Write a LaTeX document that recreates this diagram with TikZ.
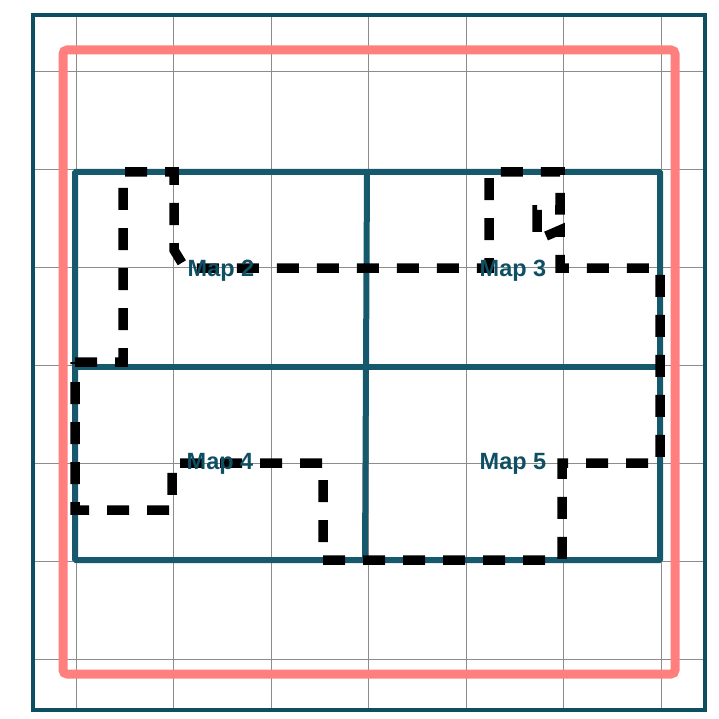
\documentclass[tikz,border=0pt]{standalone}
\usepackage{fontspec}
\setmainfont{Liberation Sans}
\usepackage{xcolor}
\definecolor{frameteal}{HTML}{0B4F60}
\definecolor{mapteal}{HTML}{17596C}
\definecolor{labelteal}{HTML}{0E4F63}
\definecolor{boundpink}{HTML}{FF7F7F}
\definecolor{gridgray}{HTML}{8C8C8C}
\tikzset{
  gridline/.style={
    draw=gridgray,
    line width=1pt
  },
  outer frame/.style={
    draw=frameteal,
    line width=4pt
  },
  bounds/.style={
    draw=boundpink,
    line width=9pt,
    rounded corners=4pt
  },
  mapcell/.style={
    draw=mapteal,
    line width=6pt,
    rounded corners=1pt
  },
  cutline/.style={
    draw=black,
    line width=9.5pt,
    dash pattern=on 22pt off 18pt
  },
  maplabel/.style={
    font=\fontsize{23.5pt}{28pt}\selectfont\bfseries,
    text=labelteal,
    inner sep=0pt
  }
}

\begin{document}
\begin{tikzpicture}[x=1pt,y=-1pt]
  \useasboundingbox (0,0) rectangle (719,719);

  \foreach \gx in {76,173.5,271,368.5,466,563.5,661}
    \draw[gridline] (\gx,15) -- (\gx,710);
  \foreach \gy in {72,170,267.5,365.5,463,561,659}
    \draw[gridline] (33,\gy) -- (705,\gy);

  \draw[outer frame] (33,15) rectangle (705,710);
  \draw[bounds] (63,50) rectangle (675,674);

  \draw[mapcell] (75,172) rectangle (660,560);
  \draw[mapcell] (367,172) -- (365,560);
  \draw[mapcell] (75,367) -- (660,367);

  \draw[cutline] (75,362) -- (123,362) -- (123,172) -- (174,172)
    -- (174,250) -- (185,268) -- (489,268) -- (489,172) -- (560,172)
    -- (560,210) -- (537,210) -- (537,240) -- (560,230) -- (560,268)
    -- (660,268) -- (660,463) -- (562,463) -- (562,560) -- (323,560)
    -- (323,463) -- (172,463) -- (172,510) -- (75,510) -- cycle;

  \node[maplabel] (map2) at (221,271) {Map 2};
  \node[maplabel] (map3) at (513,271) {Map 3};
  \node[maplabel] (map4) at (220,464) {Map 4};
  \node[maplabel] (map5) at (513,464) {Map 5};
\end{tikzpicture}
\end{document}
